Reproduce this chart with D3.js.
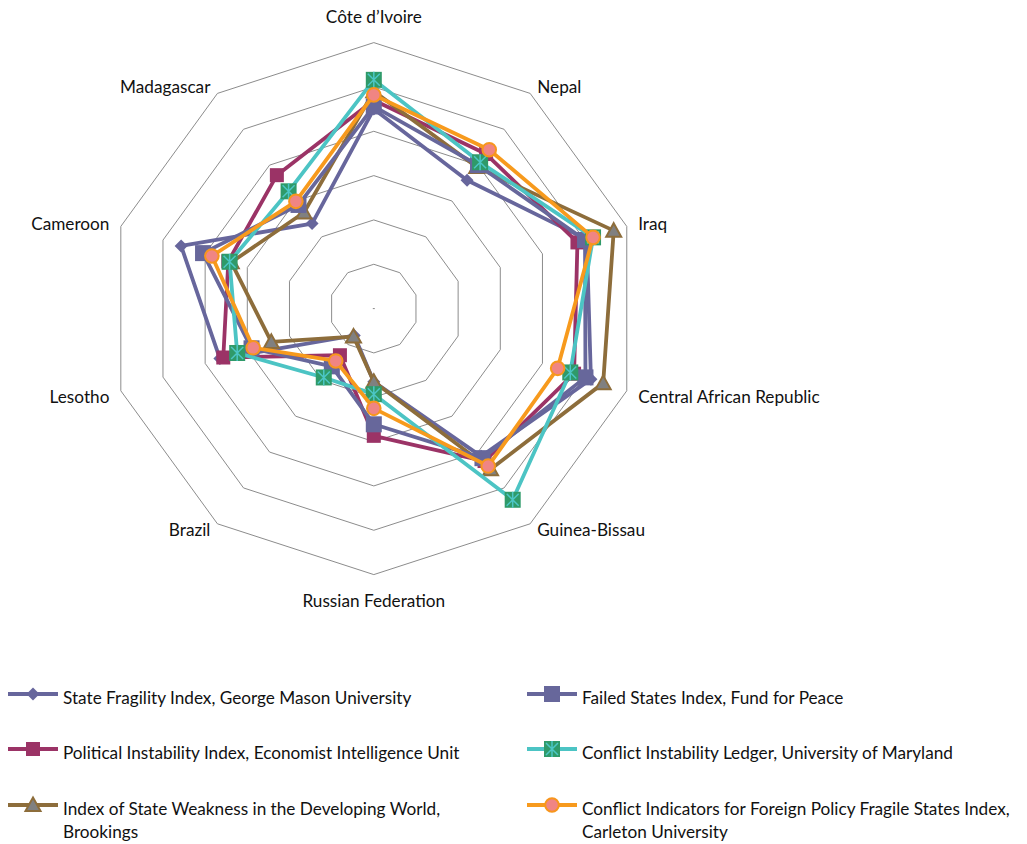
<!DOCTYPE html>
<html><head><meta charset="utf-8">
<script src="https://cdn.jsdelivr.net/npm/d3@7"></script>
<style>
html,body{margin:0;padding:0;background:#fff;}
svg text{font-family:Lato,"Open Sans",sans-serif;fill:#111;}
</style></head>
<body><svg id="chart" width="1027" height="844"></svg>
<script>
const categories = ["Côte d’Ivoire","Nepal","Iraq","Central African Republic","Guinea-Bissau","Russian Federation","Brazil","Lesotho","Cameroon","Madagascar"];
const ringTicks = [1,2,3,4,5,6];
const seriesNames = [
  "State Fragility Index, George Mason University",
  "Failed States Index, Fund for Peace",
  "Political Instability Index, Economist Intelligence Unit",
  "Conflict Instability Ledger, University of Maryland",
  "Index of State Weakness in the Developing World, Brookings",
  "Conflict Indicators for Foreign Policy Fragile States Index, Carleton University"
];
const stateFragility  = [4.50, 3.58, 5.05, 5.15, 4.12, 1.65, 0.75, 3.65, 4.57, 2.37];
const failedStates    = [4.56, 4.00, 5.01, 5.02, 4.17, 2.61, 1.61, 2.90, 4.05, 2.89];
const politicalInst   = [4.70, 4.31, 4.83, 4.75, 4.25, 2.87, 1.30, 3.57, 3.45, 3.72];
const conflictLedger  = [5.16, 4.08, 5.20, 4.66, 5.33, 1.93, 1.92, 3.24, 3.42, 3.27];
const brookings       = [4.90, 3.95, 5.69, 5.44, 4.48, 1.65, 0.78, 2.43, 3.38, 2.68];
const carleton        = [4.82, 4.43, 5.20, 4.36, 4.39, 2.25, 1.46, 2.86, 3.84, 2.99];

const svg = d3.select("#chart");
const cx = 373.8, cy = 308.6, R = 266;
const FS = 17.2;
const r = d3.scaleLinear().domain([0,6]).range([0,R]);
const n = categories.length;
const ang = i => i * 2*Math.PI/n;
const pt = (i,v) => [cx + r(v)*Math.sin(ang(i)), cy - r(v)*Math.cos(ang(i))];

// grid rings
const g = svg.append("g");
ringTicks.forEach(t => {
  g.append("path")
   .attr("d", d3.line()(d3.range(n).map(i => pt(i,t))) + "Z")
   .attr("fill","none").attr("stroke","#8c8c8c").attr("stroke-width",1);
});
// tiny center tick mark
g.append("line").attr("x1",cx-1).attr("x2",cx+1).attr("y1",cy).attr("y2",cy)
 .attr("stroke","#888").attr("stroke-width",1);

// category labels
categories.forEach((c,i) => {
  const a = ang(i), sx = Math.sin(a), sy = -Math.cos(a);
  const [vx,vy] = pt(i,6);
  let x, y, anchor;
  if (Math.abs(sx) < 0.01) {
    anchor = "middle"; x = vx; y = vy + sy*26 + 6;
  } else {
    anchor = sx > 0 ? "start" : "end";
    x = vx + sx*12; y = vy + sy*8 + 6 + (Math.abs(sy)<0.5 && sy>0 ? 4 : 0);
  }
  svg.append("text").attr("x",x).attr("y",y).attr("text-anchor",anchor)
     .attr("font-size",FS).text(c);
});

// marker drawing
function marker(sel, type, x, y) {
  const m = sel.append("g").attr("transform",`translate(${x},${y})`);
  if (type==="diamond") {
    m.append("path").attr("d","M0,-6.5L6.5,0L0,6.5L-6.5,0Z").attr("fill","#67669c");
  } else if (type==="squareBig") {
    m.append("rect").attr("x",-8).attr("y",-8).attr("width",16).attr("height",16).attr("fill","#67679b");
  } else if (type==="squareRed") {
    m.append("rect").attr("x",-7).attr("y",-7).attr("width",14).attr("height",14).attr("fill","#9b3366");
  } else if (type==="xsquare") {
    m.append("rect").attr("x",-8).attr("y",-8).attr("width",16).attr("height",16).attr("fill","#2f9a69");
    m.append("path").attr("d","M-6,-6L6,6M6,-6L-6,6M0,-8L0,8")
     .attr("stroke","#4cc6c6").attr("stroke-width",1.5).attr("fill","none");
  } else if (type==="triangle") {
    m.append("path").attr("d","M0,-7.5L7.5,6L-7.5,6Z").attr("fill","#808080")
     .attr("stroke","#8d6d3b").attr("stroke-width",2).attr("stroke-linejoin","miter");
  } else if (type==="circle") {
    m.append("circle").attr("r",6.8).attr("fill","#f08583")
     .attr("stroke","#f7961d").attr("stroke-width",2);
  }
}

const series = [
  {name:seriesNames[0], vals:stateFragility, line:"#67669c", mk:"diamond"},
  {name:seriesNames[2], vals:politicalInst,  line:"#9b3366", mk:"squareRed"},
  {name:seriesNames[4], vals:brookings,      line:"#8d6d3b", mk:"triangle"},
  {name:seriesNames[1], vals:failedStates,   line:"#67679b", mk:"squareBig"},
  {name:seriesNames[3], vals:conflictLedger, line:"#4cc4c4", mk:"xsquare"},
  {name:seriesNames[5], vals:carleton,       line:"#f79a1d", mk:"circle"}
];

const lineGen = d3.line().curve(d3.curveLinearClosed);
series.forEach(s => {
  const pts = s.vals.map((v,i) => pt(i,v));
  const sg = svg.append("g");
  sg.append("path").attr("d", lineGen(pts)).attr("fill","none")
    .attr("stroke", s.line).attr("stroke-width",3.8).attr("stroke-linejoin","round");
  pts.forEach(p => marker(sg, s.mk, p[0], p[1]));
});

// legend
const legendItems = [
  {name:seriesNames[0], line:"#67669c", mk:"diamond"},
  {name:seriesNames[1], line:"#67679b", mk:"squareBig"},
  {name:seriesNames[2], line:"#9b3366", mk:"squareRed"},
  {name:seriesNames[3], line:"#4cc4c4", mk:"xsquare"},
  {name:["Index of State Weakness in the Developing World,","Brookings"], line:"#8d6d3b", mk:"triangle"},
  {name:["Conflict Indicators for Foreign Policy Fragile States Index,","Carleton University"], line:"#f79a1d", mk:"circle"}
];
const colX = [8, 527], rowY = [694, 749, 805];
legendItems.forEach((it,k) => {
  const col = k%2, row = Math.floor(k/2);
  const x0 = colX[col], y0 = rowY[row];
  const lg = svg.append("g");
  lg.append("line").attr("x1",x0).attr("x2",x0+50).attr("y1",y0).attr("y2",y0)
    .attr("stroke",it.line).attr("stroke-width",3.8);
  marker(lg, it.mk, x0+25, y0);
  const lines = Array.isArray(it.name) ? it.name : [it.name];
  const t = lg.append("text").attr("x",x0+55).attr("y",y0+9.5).attr("font-size",FS);
  lines.forEach((l,j) => t.append("tspan").attr("x",x0+55).attr("dy", j===0?0:23).text(l));
});
</script></body></html>
